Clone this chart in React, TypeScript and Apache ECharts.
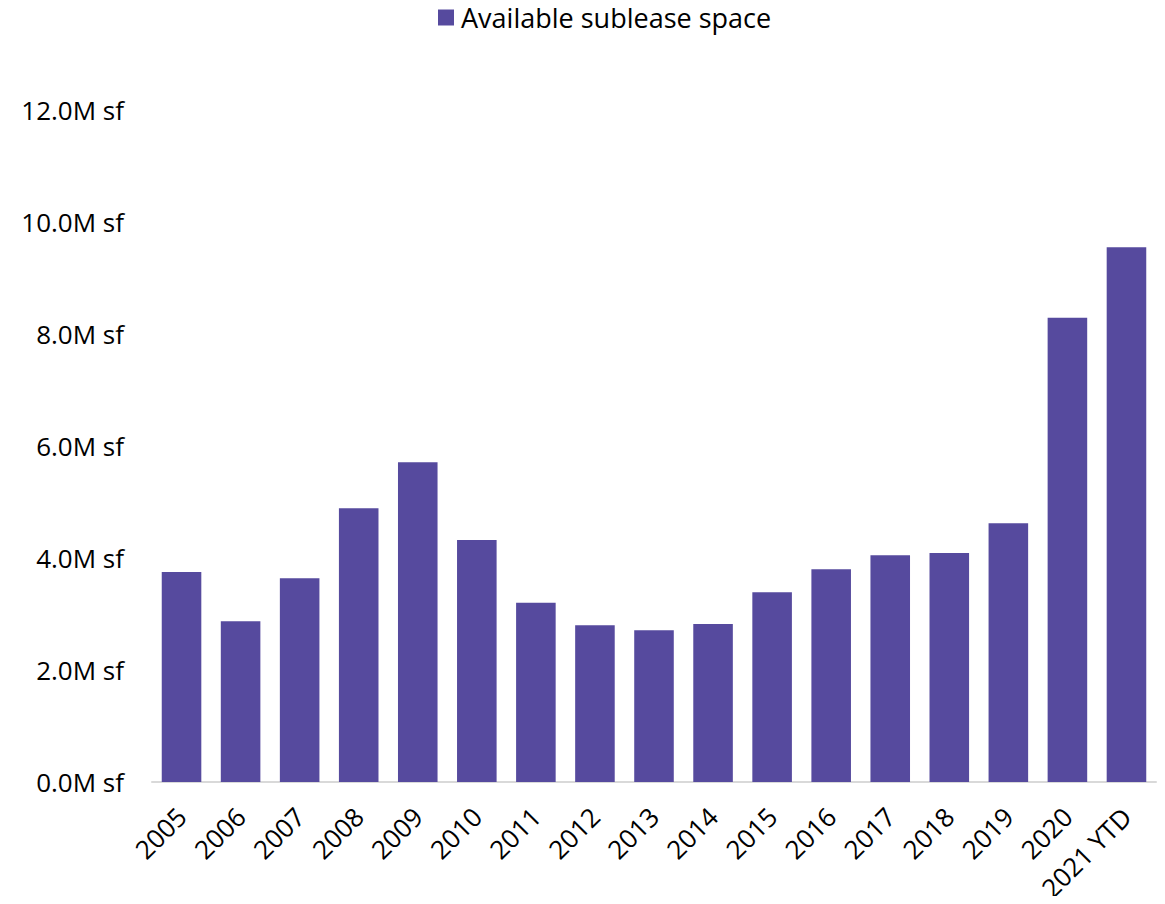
import React, { useEffect, useRef } from "react";
import * as echarts from "echarts";

const categories = ["2005", "2006", "2007", "2008", "2009", "2010", "2011", "2012", "2013", "2014", "2015", "2016", "2017", "2018", "2019", "2020", "2021 YTD"];
const subleaseSpace = [3.75, 2.87, 3.64, 4.89, 5.71, 4.32, 3.2, 2.8, 2.71, 2.82, 3.39, 3.8, 4.05, 4.09, 4.62, 8.29, 9.55];
const yTicks = { min: 0, max: 12, interval: 2 };

const FONT = "'Open Sans', 'Noto Sans', sans-serif";

export default function App() {
  const ref = useRef<HTMLDivElement>(null);
  useEffect(() => {
    if (!ref.current) return;
    const chart = echarts.init(ref.current, undefined, { renderer: "svg" });
    chart.setOption({
      animation: false,
      textStyle: { fontFamily: FONT },
      legend: {
        top: 4,
        left: 438,
        padding: 0,
        itemWidth: 16,
        itemHeight: 16,
        itemGap: 8,
        icon: "rect",
        textStyle: { fontSize: 27, color: "#000", fontFamily: FONT, padding: [0, 0, 0, 2] },
        data: ["Available sublease space"],
      },
      grid: { left: 152, right: 9, top: 110, bottom: 122 },
      xAxis: {
        type: "category",
        data: categories,
        axisLine: { lineStyle: { color: "#d9d9d9", width: 2 } },
        axisTick: { show: false },
        axisLabel: { rotate: 45, fontSize: 26, color: "#000", margin: 30, interval: 0, fontFamily: FONT },
      },
      yAxis: {
        type: "value",
        min: yTicks.min,
        max: yTicks.max,
        interval: yTicks.interval,
        splitLine: { show: false },
        axisLine: { show: false },
        axisTick: { show: false },
        axisLabel: {
          fontSize: 26,
          color: "#000",
          margin: 28,
          fontFamily: FONT,
          formatter: (v: number) => `${v.toFixed(1)}M sf`,
        },
      },
      series: [
        {
          name: "Available sublease space",
          type: "bar",
          data: subleaseSpace,
          barWidth: "67%",
          itemStyle: { color: "#564a9e" },
        },
      ],
    });
    return () => chart.dispose();
  }, []);
  return <div ref={ref} style={{ width: 1165, height: 904, margin: -8 }} />;
}
